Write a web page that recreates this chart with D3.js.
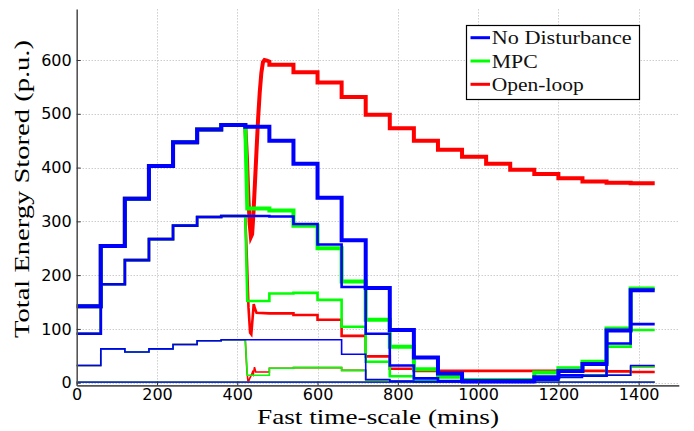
<!DOCTYPE html>
<html>
<head>
<meta charset="utf-8">
<script src="https://cdn.jsdelivr.net/npm/d3@7"></script>
<style>
  body { margin: 0; background: #fff; }
  svg { display: block; }
</style>
</head>
<body>
<div id="graph"></div>
<script>
// step start times (mins), each value holds for 60 mins
var stepTimes = d3.range(0, 1441, 60);

// No Disturbance
var noDistThick  = [142,254,342,403,447,471,479,476,450,407,344,265,176,98,47,17,3,3,3,10,22,35,97,172];
var noDistMedium = [91,183,228,267,292,308,310,310,309,295,257,178,91,32,8,3,1,1,1,6,14,13,73,109];
var noDistThin   = [32,63,57,63,71,78,80,80,80,80,80,53,6,3,2,2,2,2,2,5,10,12,14,32];
var baseValues   = [1,1,1,1,1,1,1,1,1,1,1,1,1,1,1,1,1,1,1,1,1,1,1,1];

// MPC
var mpcThick  = [142,254,342,403,447,471,479,324,320,292,250,188,117,67,25,11,5,5,5,19,27,39,101,175];
var mpcMedium = [91,183,228,267,292,308,310,152,166,167,154,104,39,12,3,2,2,2,2,6,14,14,67,98];
var mpcThin   = [32,63,57,63,71,78,80,14,27,28,28,23,5,3,2,2,2,2,2,5,12,13,14,30];

// Open-loop
var openThick  = [142,254,342,403,447,471,479,597,591,577,558,531,498,473,450,433,420,407,396,388,380,374,372,371];
var openMedium = [91,183,228,267,292,308,310,129,129,126,117,87,49,26,22,22,22,22,22,22,22,22,21,20];
var openThin   = [32,63,57,63,71,78,80,20,27,28,28,23,5,3,2,2,2,2,2,5,12,13,14,30];

// disturbance at t=420: fast transients [time, value]
var mpcThickDrop   = [[420,476],[425,324]];
var mpcMediumDrop  = [[420,310],[425,152]];
var mpcThinDrop    = [[420,80],[425,14]];
var openThickDip   = [[420,478],[424,420],[428,340],[431,295],[434,271],[437,276],[440,310],[444,370],[448,432],[452,492],[456,540],[460,576],[464,596],[468,600],[474,599],[480,597]];
var openMediumDip  = [[420,310],[424,230],[428,140],[432,93],[435,90],[438,118],[441,146],[444,138],[448,130]];
var openThinDip    = [[420,80],[424,22],[427,0],[431,8],[435,14],[438,20],[440,16],[443,29],[446,20]];

var xTicks = [0,200,400,600,800,1000,1200,1400];
var yTicks = [0,100,200,300,400,500,600];
var legendNames = ["No Disturbance", "MPC", "Open-loop"];
var colors = ["#0000ff", "#00ff00", "#ff0000"];

var width = 694, height = 431;

var x = d3.scaleLinear().domain([0, 1500]).range([76.7, 678.8]);
var y = d3.scaleLinear().domain([-5, 695]).range([385.4, 8.9]);

// build step line points, swapping in the transient for the 420-480 slot
function stepPoints(values, transient) {
    var pts = [];
    values.forEach(function(v, i) {
        var t0 = stepTimes[i], t1 = stepTimes[i + 1];
        if (transient && t0 === 420) {
            transient.forEach(function(p) { pts.push(p); });
            pts.push([t1, v]);
        } else {
            pts.push([t0, v]);
            pts.push([t1, v]);
        }
    });
    return pts;
}

var svg = d3.select("#graph").append("svg")
    .attr("width", width)
    .attr("height", height)
    .attr("xmlns", "http://www.w3.org/2000/svg");

// grid
var grid = svg.append("g").attr("stroke", "#b5b5b5").attr("stroke-width", 1).attr("stroke-dasharray", "1,2");
grid.selectAll(".gx").data(xTicks.slice(1)).enter().append("line")
    .attr("x1", function(d) { return Math.round(x(d)) + 0.5; })
    .attr("x2", function(d) { return Math.round(x(d)) + 0.5; })
    .attr("y1", y.range()[0]).attr("y2", y.range()[1]);
grid.selectAll(".gy").data(yTicks).enter().append("line")
    .attr("y1", function(d) { return Math.round(y(d)) + 0.5; })
    .attr("y2", function(d) { return Math.round(y(d)) + 0.5; })
    .attr("x1", x.range()[0]).attr("x2", x.range()[1]);

// series, red under green under blue
var series = [
    {c: 2, w: 4,   pts: stepPoints(openThick, openThickDip)},
    {c: 2, w: 2.6, pts: stepPoints(openMedium, openMediumDip)},
    {c: 2, w: 1.6, pts: stepPoints(openThin, openThinDip)},
    {c: 2, w: 1.2, pts: stepPoints(baseValues)},
    {c: 1, w: 4,   pts: stepPoints(mpcThick, mpcThickDrop)},
    {c: 1, w: 2.6, pts: stepPoints(mpcMedium, mpcMediumDrop)},
    {c: 1, w: 1.6, pts: stepPoints(mpcThin, mpcThinDrop)},
    {c: 1, w: 1.2, pts: stepPoints(baseValues)},
    {c: 0, w: 4,   pts: stepPoints(noDistThick)},
    {c: 0, w: 2.6, pts: stepPoints(noDistMedium)},
    {c: 0, w: 1.6, pts: stepPoints(noDistThin)},
    {c: 0, w: 1.2, pts: stepPoints(baseValues)}
];

var line = d3.line()
    .x(function(d) { return x(d[0]); })
    .y(function(d) { return y(d[1]); });

svg.append("g").selectAll("path").data(series).enter().append("path")
    .attr("d", function(d) { return line(d.pts); })
    .attr("fill", "none")
    .attr("stroke", function(d) { return colors[d.c]; })
    .attr("stroke-width", function(d) { return d.w; })
    .attr("stroke-linejoin", "miter");

// axes, ticks point inward like matlab
var xAxis = svg.append("g")
    .attr("transform", "translate(0," + y.range()[0] + ")")
    .call(d3.axisBottom(x).tickValues(xTicks).tickFormat(d3.format("d"))
        .tickSizeInner(-4).tickSizeOuter(0).tickPadding(3));
var yAxis = svg.append("g")
    .attr("transform", "translate(" + x.range()[0] + ",0)")
    .call(d3.axisLeft(y).tickValues(yTicks).tickFormat(d3.format("d"))
        .tickSizeInner(-4).tickSizeOuter(0).tickPadding(5));

[xAxis, yAxis].forEach(function(a) {
    a.select(".domain").attr("stroke", "#555").attr("stroke-width", 1.6);
    a.selectAll(".tick line").attr("stroke", "#333");
    a.selectAll("text")
        .attr("fill", "#000")
        .style("font-family", "'DejaVu Sans', sans-serif")
        .style("font-size", "16px");
});

// axis labels
svg.append("text")
    .attr("x", 378).attr("y", 424)
    .attr("text-anchor", "middle")
    .attr("textLength", 242)
    .attr("lengthAdjust", "spacingAndGlyphs")
    .style("font-family", "'Liberation Serif', serif")
    .style("font-size", "21px")
    .text("Fast time-scale (mins)");

svg.append("text")
    .attr("transform", "translate(29,189) rotate(-90)")
    .attr("text-anchor", "middle")
    .attr("textLength", 298)
    .attr("lengthAdjust", "spacingAndGlyphs")
    .style("font-family", "'Liberation Serif', serif")
    .style("font-size", "21px")
    .text("Total Energy Stored (p.u.)");

// legend
var legend = svg.append("g");
legend.append("rect")
    .attr("x", 466.5).attr("y", 25.5)
    .attr("width", 173).attr("height", 74)
    .attr("fill", "#fff").attr("stroke", "#000").attr("stroke-width", 1.2);

var textLens = [140, 46, 92];
var rows = legend.selectAll(".row").data(legendNames).enter().append("g")
    .attr("transform", function(d, i) { return "translate(0," + (37.7 + i * 23.3) + ")"; });
rows.append("line")
    .attr("x1", 470.5).attr("x2", 490)
    .attr("stroke", function(d, i) { return colors[i]; })
    .attr("stroke-width", 3);
rows.append("text")
    .attr("x", 491.7).attr("y", 6.5)
    .attr("textLength", function(d, i) { return textLens[i]; })
    .attr("lengthAdjust", "spacingAndGlyphs")
    .style("font-family", "'Liberation Serif', serif")
    .style("font-size", "19px")
    .attr("fill", "#111")
    .text(function(d) { return d; });
</script>
</body>
</html>
